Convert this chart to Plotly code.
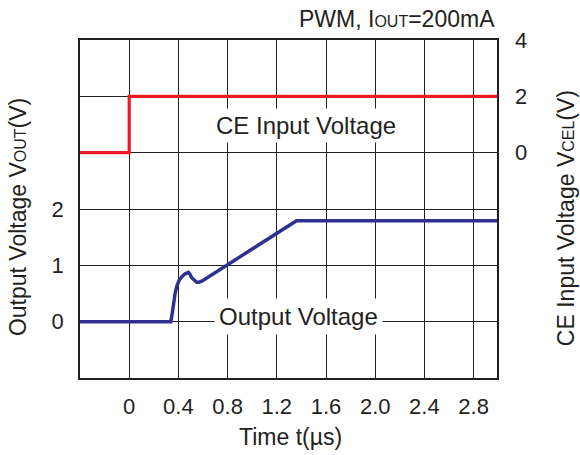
import plotly.graph_objects as go

# Data
t_out = [-0.4, 0.338, 0.348, 0.36, 0.373, 0.387, 0.405, 0.428, 0.455, 0.481, 0.495, 0.508, 0.528, 0.549, 0.568, 0.59, 1.36, 2.99]
v_out = [0.0, 0.0, 0.12, 0.33, 0.50, 0.63, 0.73, 0.80, 0.85, 0.875, 0.84, 0.78, 0.73, 0.70, 0.70, 0.72, 1.79, 1.79]

t_ce = [-0.4, 0.0, 0.0, 2.99]
v_ce = [0.0, 0.0, 2.0, 2.0]

x_ticks = [-0.4, 0, 0.4, 0.8, 1.2, 1.6, 2.0, 2.4, 2.8]
x_ticktext = ["", "0", "0.4", "0.8", "1.2", "1.6", "2.0", "2.4", "2.8"]
yl_ticks = [-1, 0, 1, 2, 3, 4, 5]
yl_ticktext = ["", "0", "1", "2", "", "", ""]
yr_ticks = [0, 2, 4]
yr_ticktext = ["0", "2", "4"]

FONT = "Liberation Sans, Arial, Helvetica, sans-serif"
TXT = "#231f20"
GRID = "#231f20"
SM = 'style="font-size:16px"'

fig = go.Figure()
fig.add_trace(go.Scatter(x=t_out, y=v_out, mode="lines",
                         line=dict(color="#2e3192", width=3.5),
                         yaxis="y", showlegend=False, hoverinfo="skip"))
fig.add_trace(go.Scatter(x=t_ce, y=v_ce, mode="lines",
                         line=dict(color="#ed1c24", width=3.2),
                         yaxis="y2", showlegend=False, hoverinfo="skip"))

fig.update_layout(
    width=580, height=455,
    margin=dict(l=80, r=83, t=40, b=77, autoexpand=False),
    paper_bgcolor="white", plot_bgcolor="white",
    font=dict(family=FONT, size=22, color=TXT),
    xaxis=dict(range=[-0.4, 2.99], tickvals=x_ticks, ticktext=x_ticktext,
               showgrid=True, gridcolor=GRID, gridwidth=1.4,
               showline=True, linecolor=GRID, linewidth=1.6, mirror=True,
               ticks="", zeroline=False, ticklabelstandoff=8,
               tickfont=dict(size=22)),
    yaxis=dict(range=[-1, 5], tickvals=yl_ticks, ticktext=yl_ticktext,
               showgrid=True, gridcolor=GRID, gridwidth=1.4,
               showline=True, linecolor=GRID, linewidth=1.6, mirror=True,
               ticks="", zeroline=False, ticklabelstandoff=10,
               tickfont=dict(size=22)),
    yaxis2=dict(range=[-8, 4], tickvals=yr_ticks, ticktext=yr_ticktext,
                overlaying="y", side="right", showgrid=False, zeroline=False,
                showline=False, ticks="", ticklabelstandoff=17,
                tickfont=dict(size=22)),
)

annotations = [
    dict(text="CE Input Voltage", x=1.436, y=3.48, xref="x", yref="y",
         showarrow=False, bgcolor="white", borderpad=3, font=dict(size=24)),
    dict(text="Output Voltage", x=1.38, y=0.1, xref="x", yref="y",
         showarrow=False, bgcolor="white", borderpad=4, font=dict(size=24)),
    dict(text=f"PWM, I<span {SM}>OUT</span>=200mA", x=1, y=1, xref="paper", yref="paper",
         xanchor="right", yanchor="bottom", yshift=6, showarrow=False, font=dict(size=23)),
    dict(text="Time t(µs)", x=0.5, y=0, xref="paper", yref="paper",
         xanchor="center", yanchor="middle", yshift=-59, xshift=2, showarrow=False,
         font=dict(size=23)),
    dict(text=f"Output Voltage V<span {SM}>OUT</span>(V)", x=0, y=0.476, xref="paper", yref="paper",
         xanchor="center", yanchor="middle", xshift=-62, textangle=-90, showarrow=False,
         font=dict(size=23)),
    dict(text=f"CE Input Voltage V<span {SM}>CEL</span>(V)", x=1, y=0.473, xref="paper", yref="paper",
         xanchor="center", yanchor="middle", xshift=69, textangle=-90, showarrow=False,
         font=dict(size=23)),
]
fig.update_layout(annotations=annotations)

fig.write_html("out.html", config={"displayModeBar": False},
               post_script="document.body.style.margin='0';document.body.style.padding='0';")
